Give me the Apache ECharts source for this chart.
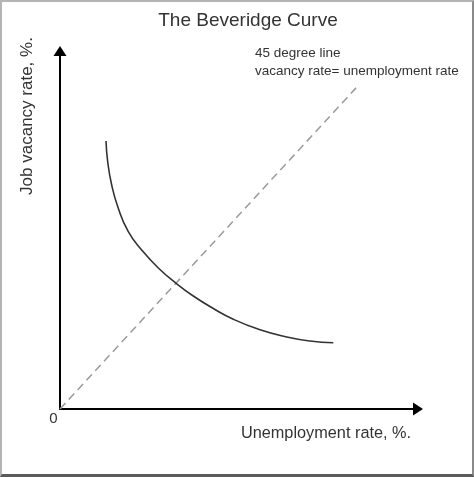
<!DOCTYPE html>
<html>
<head>
<meta charset="utf-8">
<script src="https://cdn.jsdelivr.net/npm/echarts@6/dist/echarts.min.js"></script>
<style>
html,body{margin:0;padding:0;background:#fff;}
#c{position:absolute;left:0;top:0;width:474px;height:477px;}
#frame{position:absolute;left:0;top:0;width:474px;height:477px;box-sizing:border-box;
border-top:2px solid #b4b4b4;border-left:2px solid #b4b4b4;border-right:2px solid #8a8a8a;border-bottom:3px solid #5a5a5a;pointer-events:none;}
</style>
</head>
<body>
<div id="c"></div>
<div id="frame"></div>
<script>
// Beveridge curve (unemployment rate, vacancy rate)
const curveX = [1.285, 1.332, 1.444, 1.628, 1.908, 2.282, 2.746, 3.260, 3.723, 4.282, 4.841, 5.587, 6.332, 6.983, 7.634];
const curveY = [7.486, 6.908, 6.257, 5.606, 4.953, 4.441, 3.939, 3.497, 3.156, 2.807, 2.506, 2.212, 2.011, 1.899, 1.852];
// 45 degree line
const diagX = [0, 8.27];
const diagY = [0, 8.97];

const titleText = 'The Beveridge Curve';
const xName = 'Unemployment rate, %.';
const yName = 'Job vacancy rate, %.';
const note1 = '45 degree line';
const note2 = 'vacancy rate= unemployment rate';
const originLabel = '0';

const chart = echarts.init(document.getElementById('c'), null, {renderer: 'canvas'});
const font = 'Liberation Sans, Arial, sans-serif';
const axisCommon = {
  type: 'value', min: 0, max: 10,
  axisLine: {show: true, lineStyle: {color: '#000', width: 2}, symbol: ['none', 'triangle'], symbolSize: [13, 10]},
  axisTick: {show: false}, axisLabel: {show: false}, splitLine: {show: false}
};
chart.setOption({
  animation: false,
  backgroundColor: '#fff',
  grid: {left: 60, right: 56, top: 51, bottom: 68},
  xAxis: Object.assign({}, axisCommon),
  yAxis: Object.assign({}, axisCommon),
  series: [
    {type: 'line', data: diagX.map((x, i) => [x, diagY[i]]), symbol: 'none',
     lineStyle: {color: '#9a9a9a', width: 1.5, type: [8, 5]}},
    {type: 'line', data: curveX.map((x, i) => [x, curveY[i]]), symbol: 'none', smooth: 0.5,
     lineStyle: {color: '#333', width: 1.6}}
  ],
  graphic: [
    {type: 'text', x: 248, y: 21, style: {text: titleText, font: '19px ' + font, fill: '#333', textAlign: 'center', textVerticalAlign: 'middle'}},
    {type: 'text', x: 255, y: 53, style: {text: note1, font: '13.5px ' + font, fill: '#333', textAlign: 'left', textVerticalAlign: 'middle'}},
    {type: 'text', x: 255, y: 71, style: {text: note2, font: '13.5px ' + font, fill: '#333', textAlign: 'left', textVerticalAlign: 'middle'}},
    {type: 'text', x: 326, y: 434, style: {text: xName, font: '16.3px ' + font, fill: '#333', textAlign: 'center', textVerticalAlign: 'middle'}},
    {type: 'text', x: 27, y: 116, rotation: Math.PI / 2, style: {text: yName, font: '17px ' + font, fill: '#333', textAlign: 'center', textVerticalAlign: 'middle'}},
    {type: 'text', x: 53.5, y: 418.5, style: {text: originLabel, font: '15px ' + font, fill: '#333', textAlign: 'center', textVerticalAlign: 'middle'}}
  ]
});
</script>
</body>
</html>
